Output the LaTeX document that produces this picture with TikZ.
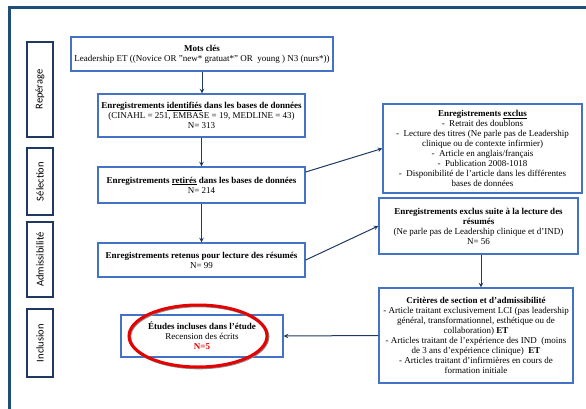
\documentclass[tikz,border=0pt]{standalone}
\usepackage{fontspec}
\setmainfont{Liberation Serif}
\newfontfamily\sidefont{Carlito}
\begin{document}
\begin{tikzpicture}[x=1pt, y=-1pt, >=stealth,
		font=\fontsize{9}{10}\selectfont,
		boite/.style={draw=boxblue, line width=1.4pt, fill=white, align=center, inner sep=2pt},
		etape/.style={draw=navy, line width=1.4pt, minimum width=26pt, inner sep=0pt,
			font=\sidefont\fontsize{10.5}{11}\selectfont},
		fleche/.style={->, navy, line width=1pt}]
		\definecolor{boxblue}{RGB}{68, 114, 196}
		\definecolor{navy}{RGB}{31, 56, 100}
		\definecolor{cadre}{RGB}{31, 78, 121}
		\definecolor{rouge}{RGB}{230, 0, 0}
		\useasboundingbox (0,0) rectangle (586,409);
		
		% cadre
		\draw[cadre, line width=3pt] (9.5,409) -- (9.5,7.5) -- (586,7.5);
		
		% étapes
		\node[etape, minimum height=95pt] (rep) at (40,89.5) {\rotatebox{90}{Repérage}};
		\node[etape, minimum height=67pt] (sel) at (40,181.5) {\rotatebox{90}{Sélection}};
		\node[etape, minimum height=75pt] (adm) at (40,259.5) {\rotatebox{90}{Admissibilité}};
		\node[etape, minimum height=68pt] (inc) at (40,343) {\rotatebox{90}{Inclusion}};
		
		% colonne de gauche
		\node[boite, minimum width=262pt, minimum height=34pt] (mots) at (202,54)
		{\textbf{Mots clés}\\Leadership ET ((Novice OR "new* gratuat*" OR\ \ young ) N3 (nurs*))};
		\node[boite, minimum width=207pt, minimum height=43pt] (ident) at (201.5,115.5)
		{\textbf{Enregistrements \underline{identifiés} dans les bases de données}\\(CINAHL = 251, EMBASE = 19, MEDLINE = 43)\\N= 313};
		\node[boite, minimum width=207pt, minimum height=36pt] (retir) at (201.5,185)
		{\textbf{Enregistrements \underline{retirés} dans les bases de données}\\N= 214};
		\node[boite, minimum width=207pt, minimum height=34pt] (reten) at (201.5,260)
		{\textbf{Enregistrements retenus pour lecture des résumés}\\N= 99};
		\node[boite, minimum width=162pt, minimum height=42pt] (etudes) at (202,336)
		{\textbf{Études incluses dans l’étude}\\Recension des écrits\\\textcolor{rouge}{\textbf{N=5}}};
		\draw[black!45, line width=3pt] ([xshift=-3.2pt, yshift=-0.8pt]etudes.center) ellipse [x radius=69pt, y radius=31pt];
		\draw[rouge, line width=3pt] ([xshift=-4pt]etudes.center) ellipse [x radius=69pt, y radius=31pt];
		
		% colonne de droite
		\node[boite, minimum width=199pt, minimum height=89pt] (exclus) at (482.5,148.5)
		{\textbf{Enregistrements \underline{exclus}}\\- \ Retrait des doublons\\- \ Lecture des titres (Ne parle pas de Leadership\\clinique ou de contexte infirmier)\\- \ Article en anglais/français\\- \ Publication 2008-1018\\- \ Disponibilité de l’article dans les différentes\\bases de données};
		\node[boite, minimum width=199pt, minimum height=56pt] (suite) at (478.5,226)
		{\textbf{Enregistrements exclus suite à la lecture des}\\\textbf{résumés}\\(Ne parle pas de Leadership clinique et d’IND)\\N= 56};
		\node[boite, minimum width=194pt, minimum height=95pt] (crit) at (476,335.5)
		{\textbf{Critères de section et d’admissibilité}\\- Article traitant exclusivement LCI (pas leadership\\général, transformationnel, esthétique ou de\\collaboration) \textbf{ET}\\- Articles traitant de l’expérience des IND\ \ (moins\\de 3 ans d’expérience clinique)\ \ \textbf{ET}\\- Articles traitant d’infirmières en cours de\\formation initiale};
		
		% flèches
		\draw[fleche] (mots.south) -- (mots.south |- ident.north);
		\draw[fleche] (ident.south) -- (retir.north);
		\draw[fleche] (retir.south) -- (reten.north);
		\draw[fleche] ([yshift=13pt]retir.east) -- (exclus.west);
		\draw[fleche] (reten.east) -- (suite.west);
		\draw[fleche] ([xshift=2.5pt]suite.south) -- ([xshift=2.5pt]suite.south |- crit.north);
		\draw[fleche] (crit.west) -- (etudes.east);
	\end{tikzpicture}
\end{document}
